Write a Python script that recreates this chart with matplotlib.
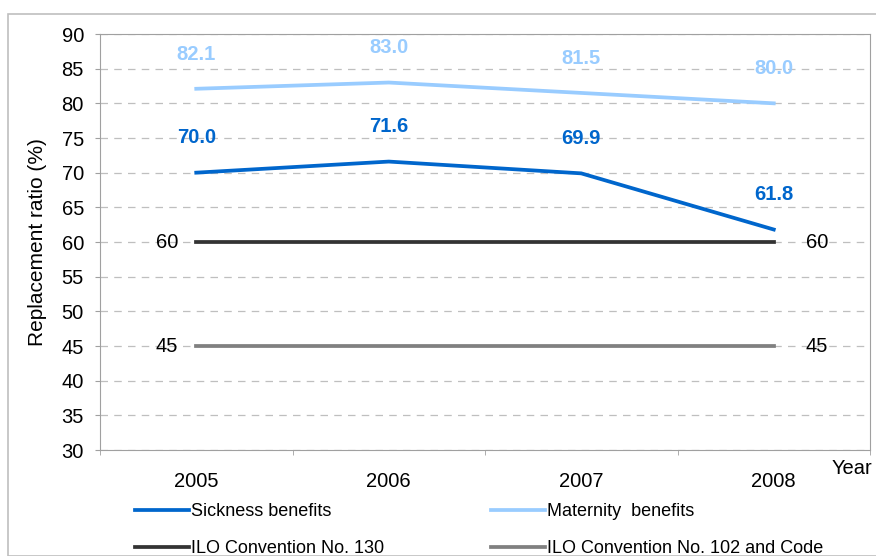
import matplotlib.pyplot as plt
from matplotlib.patches import Rectangle

plt.rcParams['font.family'] = ['Liberation Sans', 'DejaVu Sans']

# data
years = ['2005', '2006', '2007', '2008']
sickness = [70.0, 71.6, 69.9, 61.8]
maternity = [82.1, 83.0, 81.5, 80.0]
ilo_130 = [60, 60, 60, 60]
ilo_102 = [45, 45, 45, 45]

col_sick = '#0066CC'
col_mat = '#99CCFF'
col_130 = '#333333'
col_102 = '#808080'

fig = plt.figure(figsize=(8.76, 5.56), dpi=100)
# outer chart border
fig.patches.append(Rectangle((8 / 876, 0), 1.0, 1 - 14 / 556, transform=fig.transFigure,
                             fill=False, edgecolor='#BFBFBF', linewidth=1.2))

ax = fig.add_axes([100 / 876, 1 - 450 / 556, 770 / 876, 416 / 556])
x = list(range(len(years)))

l1, = ax.plot(x, sickness, color=col_sick, lw=2.7, label='Sickness benefits')
l2, = ax.plot(x, maternity, color=col_mat, lw=2.7, label='Maternity  benefits')
l3, = ax.plot(x, ilo_130, color=col_130, lw=2.7, label='ILO Convention No. 130')
l4, = ax.plot(x, ilo_102, color=col_102, lw=2.7, label='ILO Convention No. 102 and Code')

# data labels
for xi, v in zip(x, sickness):
    ax.annotate(f'{v:.1f}', (xi, v), xytext=(0, 25), textcoords='offset points',
                ha='center', va='center', fontsize=14.5, fontweight='bold', color=col_sick)
for xi, v in zip(x, maternity):
    ax.annotate(f'{v:.1f}', (xi, v), xytext=(0, 25), textcoords='offset points',
                ha='center', va='center', fontsize=14.5, fontweight='bold', color=col_mat)
for vals in (ilo_130, ilo_102):
    ax.annotate(f'{vals[0]:g}', (x[0], vals[0]), xytext=(-21, 0), textcoords='offset points',
                ha='center', va='center', fontsize=14.5, color='black')
    ax.annotate(f'{vals[-1]:g}', (x[-1], vals[-1]), xytext=(31, 0), textcoords='offset points',
                ha='center', va='center', fontsize=14.5, color='black')

ax.set_xlim(-0.5, len(years) - 0.5)
ax.set_ylim(30, 90)
ax.set_yticks(range(30, 91, 5))
ax.tick_params(axis='y', labelsize=14.5, length=3.6, color='#A0A0A0', pad=8)
ax.set_xticks(x)
ax.set_xticklabels(years)
ax.set_xticks([i - 0.5 for i in range(len(years) + 1)], minor=True)
ax.tick_params(axis='x', which='major', length=0, labelsize=14.5, pad=16)
ax.tick_params(axis='x', which='minor', length=3.6, color='#A0A0A0')

ax.grid(axis='y', color='#BFBFBF', linestyle=(0, (6, 5)), linewidth=0.9)
ax.set_axisbelow(True)
for s in ax.spines.values():
    s.set_color('#A0A0A0')

ax.set_ylabel('Replacement ratio (%)', fontsize=15)
ax.yaxis.set_label_coords(-0.069, 0.5)
fig.text(852 / 876, 1 - 469 / 556, 'Year', fontsize=14.5, ha='center', va='center')

fig.legend([l1, l3, l2, l4], [l1.get_label(), l3.get_label(), l2.get_label(), l4.get_label()],
           ncol=2, loc='center left', bbox_to_anchor=(135 / 876, 1 - 530 / 556),
           frameon=False, fontsize=13, handlelength=3.0, handletextpad=0.12,
           columnspacing=5.9, labelspacing=1.1, borderpad=0, borderaxespad=0)

fig.savefig('out.png', dpi=100)
